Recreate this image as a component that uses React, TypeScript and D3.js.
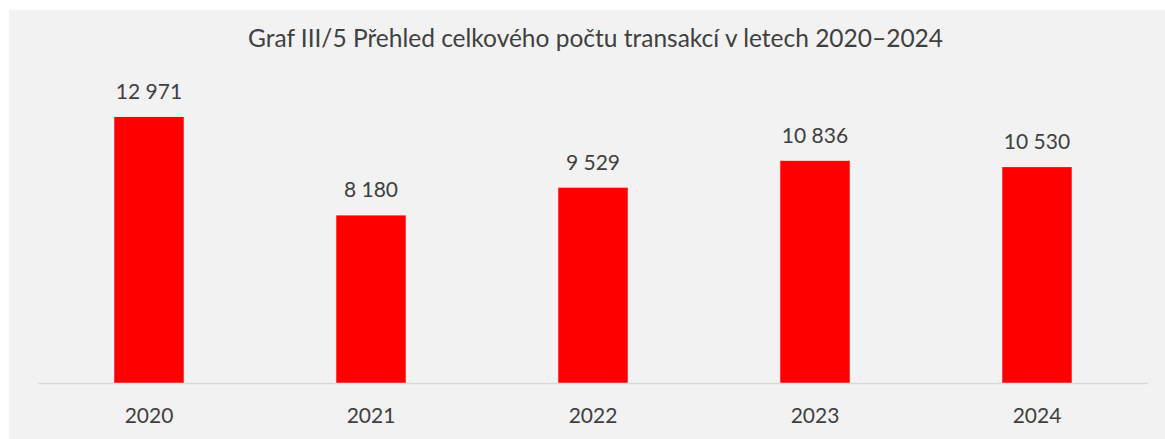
import React from "react";
import * as d3 from "d3";

const years = ["2020", "2021", "2022", "2023", "2024"];
const transactions = [12971, 8180, 9529, 10836, 10530];
const title = "Graf III/5 Přehled celkového počtu transakcí v letech 2020–2024";

const W = 1165;
const H = 439;
const FONT = "Lato, 'Open Sans', sans-serif";
const TEXT = "#404040";

export default function App() {
  const x = d3.scaleBand<string>().domain(years).range([38, 1148]).paddingInner(0.687).paddingOuter(0.3435);
  const y = d3.scaleLinear().domain([0, 14000]).range([383.5, 95.8]);
  const fmt = (v: number) => d3.format(",")(v).replace(/,/g, " ");
  return (
    <svg width={W} height={H} style={{ position: "absolute", left: 0, top: 0 }}>
      <rect x={9} y={10} width={W - 9} height={H - 10} fill="#f2f2f2" />
      <text x={595.5} y={46.5} textAnchor="middle" fontFamily={FONT} fontSize={24.5} fill={TEXT}>
        {title}
      </text>
      {years.map((yr, i) => (
        <g key={yr}>
          <rect x={x(yr)} y={y(transactions[i])} width={x.bandwidth()} height={y(0) - y(transactions[i])} fill="#ff0000" />
          <text x={(x(yr) as number) + x.bandwidth() / 2} y={y(transactions[i]) - 18} textAnchor="middle" fontFamily={FONT} fontSize={21} fill={TEXT}>
            {fmt(transactions[i])}
          </text>
          <text x={(x(yr) as number) + x.bandwidth() / 2} y={423} textAnchor="middle" fontFamily={FONT} fontSize={21} fill={TEXT}>
            {yr}
          </text>
        </g>
      ))}
      <line x1={38} x2={1148} y1={383.5} y2={383.5} stroke="#d9d9d9" strokeWidth={1.5} />
    </svg>
  );
}
